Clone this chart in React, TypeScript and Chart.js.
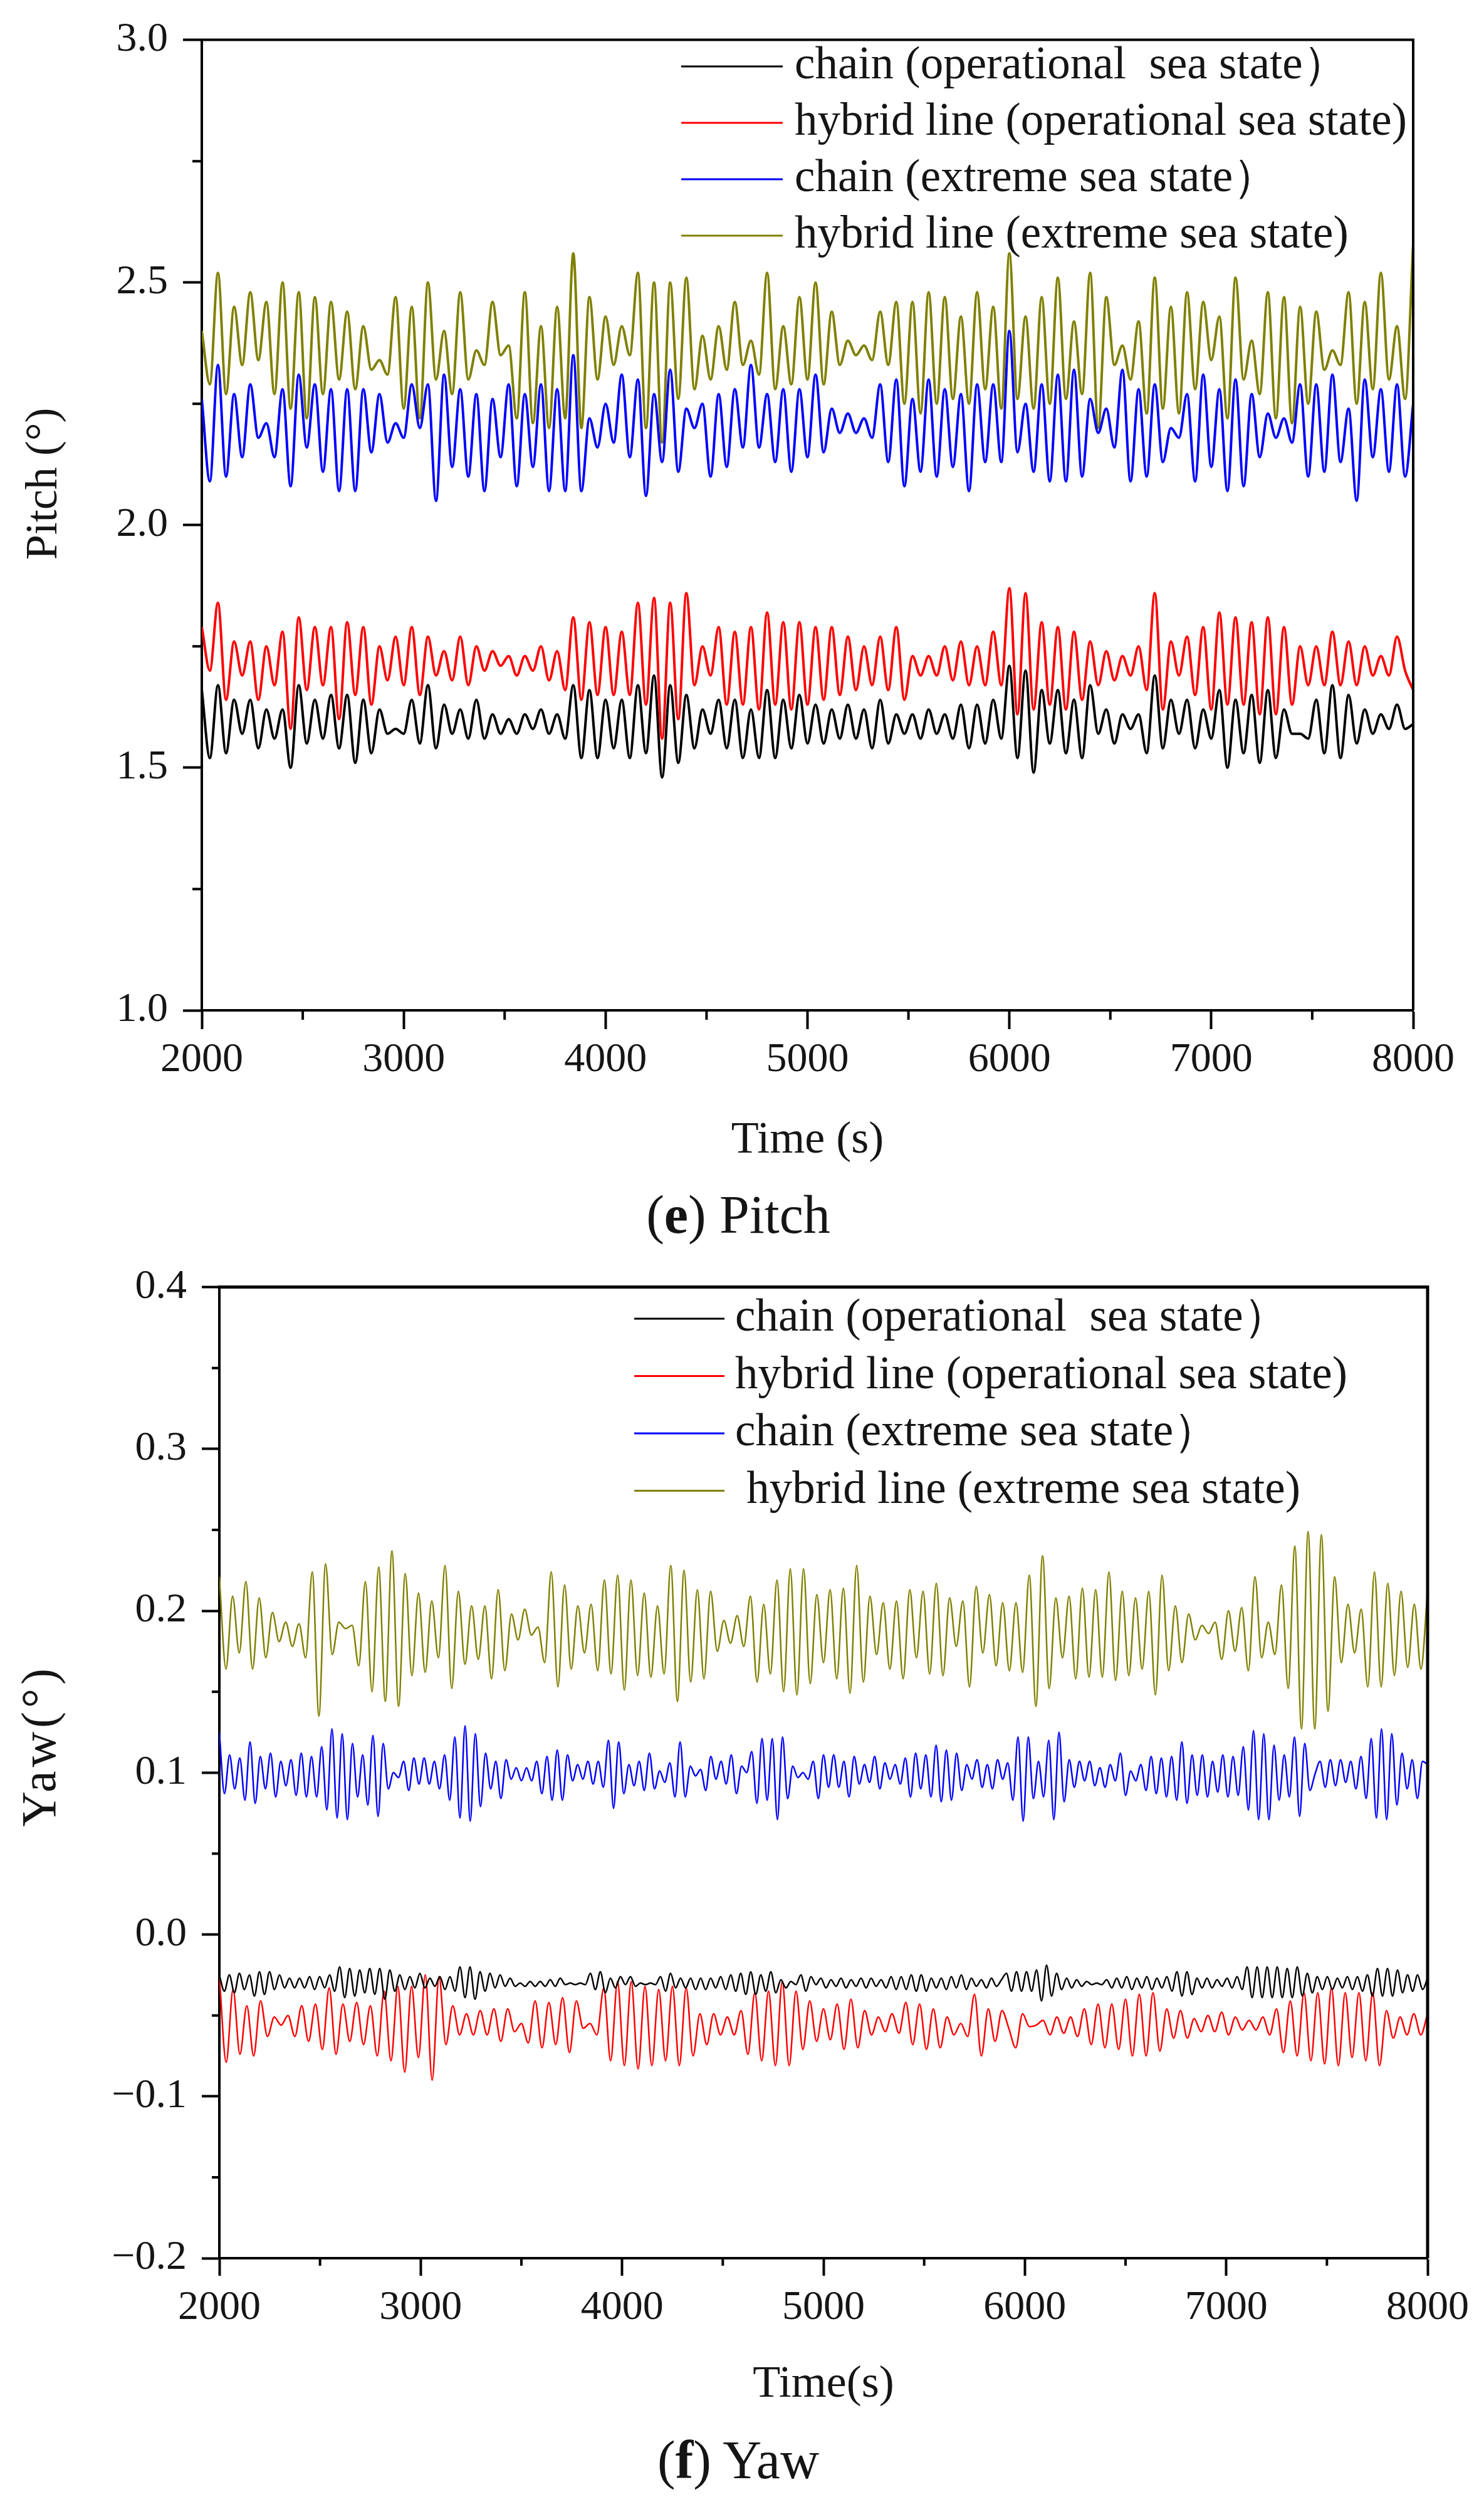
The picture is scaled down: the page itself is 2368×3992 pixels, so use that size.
import { useEffect, useRef } from 'react'
import { Chart, registerables } from 'chart.js'

Chart.register(...registerables)

const SERIF = "'Liberation Serif', 'Times New Roman', serif"
const INK = '#151515'

// time axis (s)
const T_START = 2000
const T_END = 8000

const pitchLabels = [
  'chain (operational  sea state\uFF09',
  'hybrid line (operational sea state)',
  'chain (extreme sea state\uFF09',
  'hybrid line (extreme sea state)',
]
const yawLabels = [
  'chain (operational  sea state\uFF09',
  'hybrid line (operational sea state)',
  'chain (extreme sea state\uFF09',
  ' hybrid line (extreme sea state)',
]
const seriesColors = ['#000000', '#ff0000', '#0000ff', '#808000']

// ---- Pitch (deg), evenly spaced 2000..8000 s ----
const pitchChainOper = [
  1.66, 1.52, 1.67, 1.53, 1.64, 1.57, 1.64, 1.54, 1.62, 1.56,
  1.62, 1.50, 1.67, 1.55, 1.64, 1.56, 1.65, 1.54, 1.65, 1.51,
  1.64, 1.53, 1.62, 1.57, 1.58, 1.57, 1.64, 1.55, 1.67, 1.54,
  1.63, 1.57, 1.62, 1.56, 1.64, 1.56, 1.61, 1.57, 1.60, 1.57,
  1.61, 1.58, 1.62, 1.57, 1.61, 1.56, 1.67, 1.52, 1.66, 1.52,
  1.64, 1.54, 1.64, 1.52, 1.67, 1.53, 1.69, 1.48, 1.67, 1.51,
  1.65, 1.54, 1.62, 1.57, 1.64, 1.54, 1.64, 1.52, 1.62, 1.52,
  1.66, 1.52, 1.64, 1.54, 1.65, 1.55, 1.63, 1.55, 1.62, 1.56,
  1.63, 1.56, 1.62, 1.54, 1.64, 1.55, 1.61, 1.57, 1.61, 1.56,
  1.62, 1.57, 1.61, 1.56, 1.63, 1.54, 1.63, 1.55, 1.64, 1.56,
  1.71, 1.52, 1.70, 1.49, 1.66, 1.55, 1.66, 1.53, 1.64, 1.52,
  1.67, 1.57, 1.62, 1.55, 1.61, 1.58, 1.61, 1.53, 1.69, 1.54,
  1.64, 1.57, 1.64, 1.54, 1.62, 1.56, 1.66, 1.50, 1.64, 1.53,
  1.65, 1.51, 1.66, 1.52, 1.62, 1.57, 1.57, 1.56, 1.64, 1.53,
  1.67, 1.52, 1.65, 1.55, 1.62, 1.57, 1.61, 1.58, 1.63, 1.58,
  1.59,
]
const pitchHybridOper = [
  1.79, 1.70, 1.84, 1.64, 1.76, 1.69, 1.76, 1.64, 1.75, 1.67,
  1.78, 1.58, 1.81, 1.66, 1.79, 1.67, 1.79, 1.60, 1.80, 1.65,
  1.79, 1.63, 1.75, 1.68, 1.77, 1.67, 1.79, 1.65, 1.77, 1.69,
  1.74, 1.68, 1.77, 1.67, 1.75, 1.70, 1.74, 1.71, 1.73, 1.69,
  1.73, 1.70, 1.75, 1.68, 1.74, 1.66, 1.81, 1.64, 1.80, 1.65,
  1.79, 1.65, 1.78, 1.65, 1.84, 1.63, 1.85, 1.56, 1.84, 1.60,
  1.86, 1.67, 1.75, 1.69, 1.79, 1.63, 1.78, 1.63, 1.79, 1.62,
  1.82, 1.63, 1.80, 1.62, 1.80, 1.63, 1.79, 1.64, 1.79, 1.65,
  1.77, 1.66, 1.75, 1.67, 1.77, 1.66, 1.79, 1.64, 1.73, 1.69,
  1.73, 1.69, 1.75, 1.68, 1.76, 1.67, 1.75, 1.67, 1.78, 1.67,
  1.87, 1.61, 1.86, 1.62, 1.80, 1.63, 1.79, 1.62, 1.78, 1.64,
  1.76, 1.67, 1.74, 1.68, 1.73, 1.69, 1.75, 1.66, 1.86, 1.62,
  1.76, 1.69, 1.77, 1.65, 1.79, 1.62, 1.82, 1.63, 1.81, 1.63,
  1.80, 1.61, 1.81, 1.61, 1.79, 1.63, 1.75, 1.67, 1.75, 1.67,
  1.78, 1.67, 1.76, 1.67, 1.75, 1.69, 1.73, 1.69, 1.77, 1.70,
  1.66,
]
const pitchChainExt = [
  2.26, 2.09, 2.33, 2.10, 2.27, 2.14, 2.29, 2.18, 2.21, 2.14,
  2.28, 2.08, 2.31, 2.16, 2.29, 2.11, 2.28, 2.07, 2.28, 2.07,
  2.28, 2.15, 2.27, 2.17, 2.21, 2.18, 2.29, 2.20, 2.29, 2.05,
  2.31, 2.12, 2.28, 2.10, 2.27, 2.07, 2.26, 2.14, 2.29, 2.08,
  2.27, 2.12, 2.29, 2.07, 2.28, 2.07, 2.35, 2.07, 2.22, 2.16,
  2.25, 2.17, 2.31, 2.14, 2.30, 2.06, 2.27, 2.13, 2.32, 2.11,
  2.24, 2.20, 2.25, 2.10, 2.27, 2.12, 2.28, 2.16, 2.33, 2.16,
  2.27, 2.13, 2.28, 2.11, 2.28, 2.14, 2.31, 2.15, 2.24, 2.19,
  2.23, 2.19, 2.22, 2.18, 2.29, 2.13, 2.30, 2.08, 2.26, 2.11,
  2.30, 2.10, 2.28, 2.12, 2.27, 2.07, 2.29, 2.13, 2.29, 2.13,
  2.40, 2.15, 2.25, 2.11, 2.29, 2.09, 2.31, 2.09, 2.32, 2.10,
  2.26, 2.19, 2.24, 2.16, 2.32, 2.09, 2.28, 2.10, 2.29, 2.13,
  2.20, 2.18, 2.27, 2.09, 2.31, 2.12, 2.28, 2.07, 2.30, 2.08,
  2.27, 2.14, 2.23, 2.18, 2.22, 2.17, 2.29, 2.10, 2.29, 2.11,
  2.31, 2.13, 2.24, 2.05, 2.30, 2.14, 2.28, 2.11, 2.29, 2.10,
  2.25,
]
const pitchHybridExt = [
  2.40, 2.29, 2.52, 2.27, 2.45, 2.33, 2.48, 2.34, 2.46, 2.27,
  2.50, 2.24, 2.48, 2.22, 2.47, 2.27, 2.46, 2.30, 2.44, 2.28,
  2.41, 2.32, 2.34, 2.31, 2.47, 2.24, 2.45, 2.22, 2.50, 2.30,
  2.40, 2.27, 2.48, 2.30, 2.36, 2.33, 2.46, 2.35, 2.37, 2.22,
  2.48, 2.21, 2.41, 2.20, 2.45, 2.22, 2.56, 2.20, 2.47, 2.30,
  2.43, 2.33, 2.41, 2.35, 2.52, 2.20, 2.50, 2.17, 2.50, 2.26,
  2.51, 2.28, 2.39, 2.30, 2.41, 2.32, 2.46, 2.33, 2.38, 2.31,
  2.52, 2.28, 2.41, 2.29, 2.47, 2.30, 2.50, 2.29, 2.44, 2.33,
  2.38, 2.35, 2.37, 2.34, 2.44, 2.33, 2.46, 2.25, 2.46, 2.23,
  2.48, 2.25, 2.47, 2.26, 2.43, 2.25, 2.48, 2.28, 2.45, 2.24,
  2.56, 2.26, 2.43, 2.24, 2.47, 2.25, 2.51, 2.26, 2.42, 2.27,
  2.52, 2.20, 2.47, 2.33, 2.37, 2.30, 2.42, 2.23, 2.51, 2.24,
  2.45, 2.23, 2.48, 2.28, 2.46, 2.34, 2.43, 2.22, 2.51, 2.30,
  2.38, 2.27, 2.48, 2.22, 2.47, 2.21, 2.45, 2.25, 2.44, 2.32,
  2.36, 2.33, 2.48, 2.25, 2.46, 2.28, 2.52, 2.30, 2.41, 2.26,
  2.58,
]

// ---- Yaw (deg), evenly spaced 2000..8000 s ----
const yawChainOper = [
  -0.025, -0.035, -0.025, -0.036, -0.024, -0.034, -0.025, -0.038, -0.023, -0.037,
  -0.023, -0.034, -0.025, -0.033, -0.027, -0.033, -0.027, -0.033, -0.026, -0.034,
  -0.026, -0.033, -0.025, -0.035, -0.020, -0.039, -0.021, -0.038, -0.022, -0.036,
  -0.021, -0.037, -0.021, -0.040, -0.022, -0.035, -0.025, -0.034, -0.026, -0.033,
  -0.024, -0.033, -0.027, -0.032, -0.026, -0.034, -0.026, -0.035, -0.020, -0.039,
  -0.020, -0.040, -0.023, -0.035, -0.024, -0.033, -0.025, -0.032, -0.027, -0.032,
  -0.030, -0.032, -0.029, -0.032, -0.029, -0.032, -0.028, -0.032, -0.027, -0.031,
  -0.030, -0.031, -0.030, -0.031, -0.024, -0.034, -0.023, -0.036, -0.027, -0.033,
  -0.026, -0.031, -0.026, -0.032, -0.030, -0.031, -0.030, -0.031, -0.026, -0.035,
  -0.024, -0.033, -0.027, -0.033, -0.027, -0.034, -0.027, -0.034, -0.027, -0.033,
  -0.026, -0.034, -0.025, -0.035, -0.024, -0.037, -0.023, -0.037, -0.025, -0.035,
  -0.023, -0.036, -0.028, -0.033, -0.029, -0.031, -0.025, -0.035, -0.026,
  -0.031, -0.027, -0.033, -0.028, -0.032, -0.027, -0.033, -0.028, -0.032, -0.027,
  -0.033, -0.027, -0.032, -0.028, -0.033, -0.026, -0.034, -0.026, -0.034, -0.025,
  -0.035, -0.025, -0.035, -0.027, -0.033, -0.027, -0.034, -0.026, -0.033, -0.025,
  -0.034, -0.027, -0.032, -0.028, -0.033, -0.027, -0.032, -0.028,
  -0.024, -0.035, -0.023, -0.035, -0.023, -0.035, -0.022, -0.041, -0.019, -0.038,
  -0.024, -0.034,
  -0.027, -0.033, -0.028, -0.032, -0.029, -0.031, -0.030, -0.031, -0.028, -0.033,
  -0.027, -0.033, -0.026, -0.034, -0.027, -0.033, -0.026, -0.034, -0.027, -0.033,
  -0.026,
  -0.035, -0.023, -0.038, -0.023, -0.037,
  -0.027, -0.033, -0.027, -0.033, -0.028, -0.032, -0.027, -0.033, -0.026, -0.034,
  -0.020, -0.039, -0.020, -0.039, -0.020, -0.039, -0.020, -0.039, -0.021, -0.039,
  -0.020, -0.038, -0.024, -0.036,
  -0.026, -0.034, -0.026, -0.034, -0.027, -0.033, -0.026, -0.034, -0.026, -0.035,
  -0.025,
  -0.038, -0.021, -0.038, -0.021, -0.038, -0.022, -0.036, -0.025, -0.035, -0.025,
  -0.034, -0.027,
]
const yawHybridOper = [
  -0.026, -0.079, -0.034, -0.074, -0.044, -0.075, -0.041, -0.063, -0.051, -0.056,
  -0.050, -0.063, -0.044, -0.066, -0.043, -0.071, -0.033, -0.074, -0.043, -0.066,
  -0.042, -0.068, -0.044, -0.075, -0.035, -0.078, -0.032, -0.085, -0.032, -0.076,
  -0.025, -0.090, -0.026, -0.068, -0.044, -0.062, -0.049, -0.062, -0.047, -0.062,
  -0.046, -0.066, -0.046, -0.060, -0.055, -0.067, -0.041, -0.070, -0.042, -0.068,
  -0.039, -0.073, -0.041, -0.058, -0.055, -0.062, -0.033, -0.078, -0.029, -0.081,
  -0.029, -0.083, -0.032, -0.081, -0.034, -0.078, -0.032, -0.081, -0.033, -0.075,
  -0.049, -0.068, -0.049, -0.062, -0.051, -0.062, -0.047, -0.074, -0.036, -0.078,
  -0.035, -0.081, -0.029, -0.081, -0.035, -0.071, -0.041, -0.066,
  -0.046, -0.065, -0.043, -0.071, -0.040, -0.070, -0.047, -0.062, -0.051, -0.060,
  -0.049, -0.061, -0.042, -0.068, -0.043, -0.071, -0.046, -0.070, -0.051, -0.062,
  -0.055, -0.063, -0.037, -0.075, -0.046, -0.066, -0.047, -0.058, -0.070, -0.049,
  -0.057, -0.056, -0.053, -0.062, -0.051, -0.061, -0.051, -0.063, -0.046, -0.068,
  -0.043, -0.070, -0.043, -0.071, -0.040, -0.075, -0.037, -0.075, -0.036, -0.072,
  -0.046, -0.064, -0.047, -0.064, -0.052, -0.060, -0.050, -0.060, -0.048, -0.062,
  -0.051, -0.059, -0.053, -0.059, -0.051, -0.062, -0.046, -0.073, -0.041, -0.075,
  -0.036, -0.078, -0.036, -0.080, -0.033, -0.081, -0.036, -0.076, -0.036, -0.078,
  -0.036, -0.081, -0.047, -0.064, -0.051, -0.062, -0.049, -0.062, -0.049,
]
const yawChainExt = [
  0.125, 0.087, 0.111, 0.090, 0.109, 0.083, 0.119, 0.081, 0.110, 0.090,
  0.112, 0.085, 0.107, 0.092, 0.108, 0.086, 0.112, 0.085, 0.110, 0.085,
  0.116, 0.077, 0.127, 0.072, 0.124, 0.071, 0.118, 0.085, 0.111, 0.080,
  0.123, 0.073, 0.118, 0.090, 0.100, 0.097, 0.107, 0.089, 0.109, 0.093,
  0.109, 0.093, 0.107, 0.090, 0.111, 0.083, 0.122, 0.072, 0.129, 0.070,
  0.124, 0.079, 0.112, 0.090, 0.107, 0.084, 0.108, 0.096, 0.103, 0.095,
  0.103, 0.095, 0.107, 0.087, 0.110, 0.083, 0.114, 0.083, 0.111, 0.095,
  0.105, 0.096, 0.107, 0.093, 0.107, 0.091, 0.120, 0.078, 0.119, 0.087,
  0.105, 0.092, 0.107, 0.089, 0.112, 0.090, 0.101, 0.094, 0.106, 0.085,
  0.119, 0.085, 0.104, 0.098, 0.102, 0.089, 0.110, 0.096, 0.107, 0.093,
  0.111, 0.087, 0.104, 0.100, 0.113, 0.081, 0.121, 0.083, 0.121, 0.071,
  0.122, 0.084, 0.104, 0.097, 0.100, 0.096, 0.107, 0.084, 0.111,
  0.091, 0.111, 0.091, 0.107, 0.085, 0.110, 0.093, 0.105, 0.094, 0.110,
  0.090, 0.106, 0.096, 0.105, 0.093, 0.109, 0.085, 0.112, 0.090, 0.111,
  0.085, 0.117, 0.082, 0.114, 0.083, 0.112, 0.089, 0.105, 0.096, 0.108,
  0.091, 0.105, 0.090, 0.108, 0.096, 0.106, 0.083, 0.122, 0.070, 0.122,
  0.084, 0.107, 0.085, 0.120, 0.071, 0.125, 0.082, 0.108, 0.091, 0.107,
  0.095, 0.107, 0.092, 0.103, 0.091, 0.105, 0.095, 0.112, 0.086, 0.101,
  0.095, 0.105, 0.089, 0.110, 0.087, 0.109, 0.085, 0.110, 0.083, 0.119,
  0.081, 0.111, 0.086, 0.111, 0.085, 0.107, 0.088, 0.111, 0.085, 0.110,
  0.086, 0.116, 0.077, 0.126, 0.071, 0.124, 0.071, 0.117, 0.083, 0.111,
  0.085, 0.122, 0.073, 0.118, 0.089, 0.099, 0.107, 0.091, 0.108, 0.092,
  0.108, 0.094, 0.107, 0.090, 0.110, 0.084, 0.121, 0.072, 0.127, 0.071,
  0.124, 0.080, 0.112, 0.090, 0.108, 0.084, 0.107, 0.105,
]
const yawHybridExt = [
  0.221, 0.164, 0.209, 0.174, 0.218, 0.164, 0.208, 0.171, 0.199, 0.181,
  0.193, 0.178, 0.192, 0.171, 0.224, 0.135, 0.229, 0.173, 0.193, 0.189,
  0.191, 0.166, 0.218, 0.150, 0.227, 0.144, 0.237, 0.141, 0.223, 0.160,
  0.211, 0.162, 0.206, 0.171, 0.228, 0.152, 0.212, 0.167, 0.203, 0.170,
  0.203, 0.158, 0.213, 0.163, 0.198, 0.182, 0.201, 0.185, 0.190, 0.168,
  0.224, 0.153, 0.216, 0.164, 0.203, 0.174, 0.204, 0.163, 0.219, 0.161,
  0.222, 0.151, 0.219, 0.160, 0.211, 0.159, 0.203, 0.161, 0.228, 0.144,
  0.225, 0.156, 0.213, 0.158, 0.212, 0.175, 0.194, 0.180, 0.197, 0.178,
  0.209, 0.156, 0.204, 0.161, 0.219, 0.150, 0.226, 0.148, 0.226, 0.155,
  0.210, 0.168, 0.213, 0.158, 0.214, 0.149, 0.228, 0.156, 0.209, 0.173,
  0.205, 0.164, 0.206, 0.158, 0.213, 0.171, 0.212, 0.161, 0.217, 0.160,
  0.208, 0.178, 0.206, 0.153, 0.215, 0.174, 0.210, 0.166, 0.205, 0.163,
  0.205, 0.162, 0.222, 0.141, 0.234, 0.152, 0.208, 0.171, 0.209, 0.158,
  0.214, 0.159, 0.213, 0.159, 0.224, 0.157, 0.212, 0.160, 0.208, 0.164,
  0.212, 0.148, 0.222, 0.163, 0.203, 0.168, 0.198, 0.182, 0.191, 0.186,
  0.193, 0.170, 0.200, 0.175, 0.202, 0.163, 0.221, 0.171, 0.193, 0.173,
  0.216, 0.152, 0.240, 0.127, 0.249, 0.127, 0.247, 0.138, 0.221, 0.168,
  0.204, 0.174, 0.201, 0.153, 0.224, 0.153, 0.217, 0.160, 0.212, 0.165,
  0.204, 0.164, 0.213,
]

const pitchSeries = [pitchChainOper, pitchHybridOper, pitchChainExt, pitchHybridExt]
const yawSeries = [yawChainOper, yawHybridOper, yawChainExt, yawHybridExt]

const pitchTick = (v: number) => Number(v).toFixed(1)
const yawTick = (v: number) => {
  const n = Math.abs(v) < 1e-9 ? 0 : Number(v)
  const s = n.toFixed(1)
  return s.startsWith('-') ? '\u2212' + s.slice(1) : s
}

// frame (top/right), minor ticks and rotated y title
const framePlugin = {
  id: 'frame',
  afterDraw(chart: any, _args: any, o: any) {
    const { ctx, chartArea: a, scales } = chart
    ctx.save()
    ctx.strokeStyle = '#000'
    ctx.lineWidth = o.width
    ctx.beginPath()
    ctx.moveTo(a.left - o.width / 2, a.top)
    ctx.lineTo(a.right, a.top)
    ctx.lineTo(a.right, a.bottom)
    ctx.stroke()

    ctx.lineWidth = o.tickWidth
    const isMajor = (v: number, min: number, step: number) =>
      Math.abs((v - min) / step - Math.round((v - min) / step)) < 1e-6
    const sx = scales.x
    ctx.beginPath()
    for (let v = sx.min + o.minorX; v < sx.max; v += o.minorX) {
      if (isMajor(v, sx.min, o.majorX)) continue
      const px = sx.getPixelForValue(v)
      ctx.moveTo(px, a.bottom)
      ctx.lineTo(px, a.bottom + o.minorLen)
    }
    const sy = scales.y
    for (let k = 1; sy.min + k * o.minorY < sy.max - 1e-9; k++) {
      const v = sy.min + k * o.minorY
      if (isMajor(v, sy.min, o.majorY)) continue
      const py = sy.getPixelForValue(v)
      ctx.moveTo(a.left, py)
      ctx.lineTo(a.left - o.minorLen, py)
    }
    ctx.stroke()

    ctx.translate(o.titleX, (a.top + a.bottom) / 2 + o.titleShift)
    ctx.rotate(-Math.PI / 2)
    ctx.fillStyle = INK
    ctx.font = `${o.titleSize}px ${SERIF}`
    if ('letterSpacing' in ctx) ctx.letterSpacing = `${o.titleSpacing}px`
    ctx.textAlign = 'center'
    ctx.textBaseline = 'middle'
    ctx.fillText(o.title, 0, 0)
    ctx.restore()
  },
}

const keyPlugin = {
  id: 'seriesKey',
  afterDatasetsDraw(chart: any, _args: any, o: any) {
    const { ctx } = chart
    ctx.save()
    ctx.font = `${o.fontSize}px ${SERIF}`
    ctx.textBaseline = 'middle'
    ctx.textAlign = 'left'
    chart.data.datasets.forEach((ds: any, i: number) => {
      const y = o.rowTop + i * o.rowGap
      ctx.strokeStyle = ds.borderColor
      ctx.lineWidth = 3
      ctx.beginPath()
      ctx.moveTo(o.lineX0, y)
      ctx.lineTo(o.lineX1, y)
      ctx.stroke()
      ctx.fillStyle = INK
      ctx.fillText(ds.label, o.textX, y)
    })
    ctx.restore()
  },
}

interface KeyBox { rowTop: number; rowGap: number; lineX0: number; lineX1: number; textX: number }

interface PanelProps {
  series: number[][]
  labels: string[]
  top: number
  height: number
  padTop: number
  padRight: number
  yWidth: number
  xHeight: number
  yMin: number
  yMax: number
  yStep: number
  yMinor: number
  yFormat: (v: number) => string
  tickLen: number
  minorLen: number
  xLabelPad: number
  xTitle: string
  xTitlePad: number
  yTitle: string
  yTitleX: number
  yTitleShift: number
  yTitleSize: number
  yTitleSpacing: number
  lineWidth: number
  frameWidth: number
  keyBox: KeyBox
}

function Panel(p: PanelProps) {
  const canvasRef = useRef<HTMLCanvasElement>(null)
  const chartRef = useRef<Chart | null>(null)

  useEffect(() => {
    if (!canvasRef.current) return
    if (chartRef.current) { chartRef.current.destroy(); chartRef.current = null }

    const tickFont = { family: SERIF, size: 66 }
    const grid = {
      drawOnChartArea: false,
      drawTicks: true,
      tickLength: p.tickLen,
      tickWidth: 4,
      tickColor: '#000',
    }
    const border = { display: true, color: '#000', width: 4 }

    chartRef.current = new Chart(canvasRef.current, {
      type: 'line',
      data: {
        datasets: p.series.map((vals, i) => ({
          label: p.labels[i],
          data: vals.map((v, k) => ({
            x: T_START + (k * (T_END - T_START)) / (vals.length - 1),
            y: v,
          })),
          borderColor: seriesColors[i],
          borderWidth: p.lineWidth,
          pointRadius: 0,
          cubicInterpolationMode: 'monotone' as const,
          fill: false,
        })),
      },
      options: {
        animation: false,
        responsive: true,
        maintainAspectRatio: false,
        layout: { padding: { top: p.padTop, right: p.padRight, bottom: 0, left: 0 } },
        plugins: {
          legend: { display: false },
          tooltip: { enabled: false },
          frame: {
            width: p.frameWidth,
            tickWidth: 4,
            minorX: 500,
            majorX: 1000,
            minorY: p.yMinor,
            majorY: p.yStep,
            minorLen: p.minorLen,
            title: p.yTitle,
            titleX: p.yTitleX,
            titleShift: p.yTitleShift,
            titleSize: p.yTitleSize,
            titleSpacing: p.yTitleSpacing,
          },
          seriesKey: { ...p.keyBox, fontSize: 73 },
        } as any,
        scales: {
          x: {
            type: 'linear',
            min: T_START,
            max: T_END,
            afterFit: (s: any) => { s.height = p.xHeight },
            ticks: {
              stepSize: 1000,
              autoSkip: false,
              maxRotation: 0,
              padding: p.xLabelPad,
              color: INK,
              font: tickFont,
              callback: (v: any) => String(v),
            },
            grid,
            border,
            title: {
              display: true,
              text: p.xTitle,
              color: INK,
              font: { family: SERIF, size: 72 },
              padding: { top: 0, bottom: p.xTitlePad },
            },
          },
          y: {
            type: 'linear',
            min: p.yMin,
            max: p.yMax,
            afterFit: (s: any) => { s.width = p.yWidth },
            ticks: {
              stepSize: p.yStep,
              autoSkip: false,
              padding: 24,
              color: INK,
              font: tickFont,
              callback: (v: any) => p.yFormat(Number(v)),
            },
            grid,
            border,
          },
        },
      },
      plugins: [framePlugin, keyPlugin],
    } as any)

    return () => { chartRef.current?.destroy(); chartRef.current = null }
  }, [p])

  return (
    <div style={{ position: 'absolute', left: 0, top: p.top, width: 2368, height: p.height }}>
      <canvas ref={canvasRef} />
    </div>
  )
}

const pitchPanel: PanelProps = {
  series: pitchSeries,
  labels: pitchLabels,
  top: 0,
  height: 1880,
  padTop: 52,
  padRight: 113,
  yWidth: 322,
  xHeight: 268,
  yMin: 1,
  yMax: 3,
  yStep: 0.5,
  yMinor: 0.25,
  yFormat: pitchTick,
  tickLen: 30,
  minorLen: 15,
  xLabelPad: 10,
  xTitle: 'Time (s)',
  xTitlePad: 17,
  yTitle: 'Pitch (\u00B0)',
  yTitleX: 71,
  yTitleShift: -66,
  yTitleSize: 72,
  yTitleSpacing: 0,
  lineWidth: 4,
  frameWidth: 4,
  keyBox: { rowTop: 106, rowGap: 90, lineX0: 1087, lineX1: 1249, textX: 1268 },
}

const yawPanel: PanelProps = {
  series: yawSeries,
  labels: yawLabels,
  top: 1990,
  height: 1870,
  padTop: 57,
  padRight: 90,
  yWidth: 350,
  xHeight: 257,
  yMin: -0.2,
  yMax: 0.4,
  yStep: 0.1,
  yMinor: 0.05,
  yFormat: yawTick,
  tickLen: 28,
  minorLen: 12,
  xLabelPad: 12,
  xTitle: 'Time(s)',
  xTitlePad: 12,
  yTitle: 'Yaw(\u00B0)',
  yTitleX: 68,
  yTitleShift: -43,
  yTitleSize: 78,
  yTitleSpacing: 6,
  lineWidth: 2.5,
  frameWidth: 5,
  keyBox: { rowTop: 114, rowGap: 91.5, lineX0: 1012, lineX1: 1156, textX: 1173 },
}

const captionStyle = (top: number): React.CSSProperties => ({
  position: 'absolute',
  left: 0,
  top,
  width: 2356,
  textAlign: 'center',
  fontFamily: SERIF,
  fontSize: 86,
  lineHeight: '86px',
  color: INK,
})

export default function App() {
  return (
    <div style={{ position: 'absolute', left: 0, top: 0, width: 2368, height: 3992, background: '#fff' }}>
      <Panel {...pitchPanel} />
      <div style={captionStyle(1895)}>(<b>e</b>) Pitch</div>
      <Panel {...yawPanel} />
      <div style={captionStyle(3882)}>(<b>f</b>) Yaw</div>
    </div>
  )
}
